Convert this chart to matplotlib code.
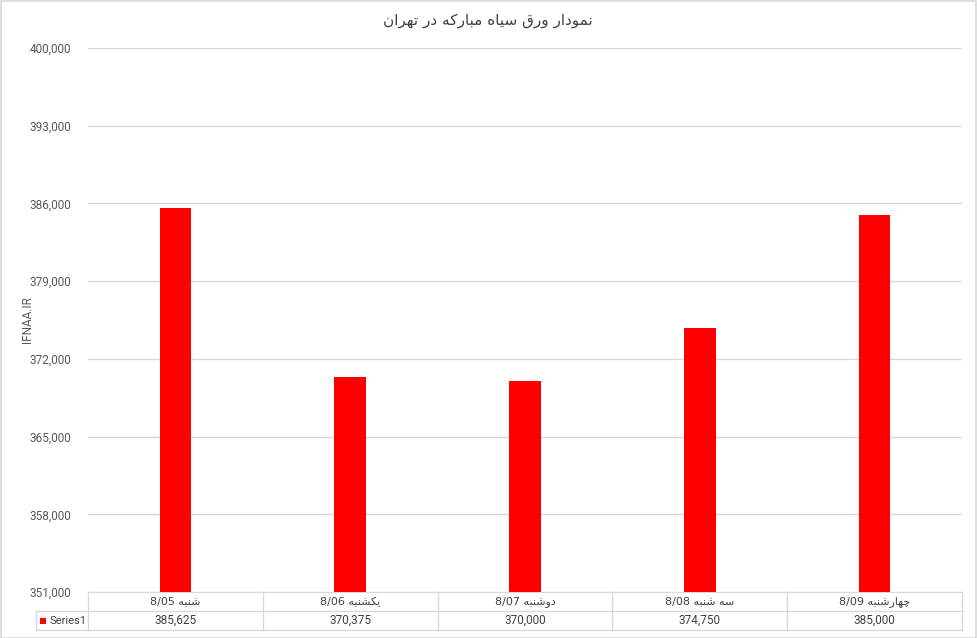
import matplotlib
matplotlib.use("Agg")
import matplotlib.pyplot as plt
import numpy as np
from matplotlib.patches import Rectangle
from matplotlib.ticker import FuncFormatter

# ---- data ----
title = "نمودار ورق سیاه مبارکه در تهران"
days = ["شنبه", "یکشنبه", "دوشنبه", "سه شنبه", "چهارشنبه"]
dates = ["8/05", "8/06", "8/07", "8/08", "8/09"]
values = [385625, 370375, 370000, 374750, 385000]
series_name = "Series1"
y_label = "IFNAA.IR"
y_min, y_max, y_step = 351000, 400000, 7000

# ---- minimal Arabic-script shaping (presentation forms + visual order) ----
FORMS = {
    "ا": ("\uFE8D", "\uFE8E"), "د": ("\uFEA9", "\uFEAA"), "ر": ("\uFEAD", "\uFEAE"),
    "و": ("\uFEED", "\uFEEE"),
    "ب": ("\uFE8F", "\uFE90", "\uFE91", "\uFE92"), "ت": ("\uFE95", "\uFE96", "\uFE97", "\uFE98"),
    "چ": ("\uFB7A", "\uFB7B", "\uFB7C", "\uFB7D"), "س": ("\uFEB1", "\uFEB2", "\uFEB3", "\uFEB4"),
    "ش": ("\uFEB5", "\uFEB6", "\uFEB7", "\uFEB8"), "ق": ("\uFED5", "\uFED6", "\uFED7", "\uFED8"),
    "ک": ("\uFB8E", "\uFB8F", "\uFB90", "\uFB91"), "م": ("\uFEE1", "\uFEE2", "\uFEE3", "\uFEE4"),
    "ن": ("\uFEE5", "\uFEE6", "\uFEE7", "\uFEE8"), "ه": ("\uFEE9", "\uFEEA", "\uFEEB", "\uFEEC"),
    "ی": ("\uFBFC", "\uFBFD", "\uFBFE", "\uFBFF"),
}


def shape(text):
    out = []
    for i, ch in enumerate(text):
        if ch not in FORMS:
            out.append(ch)
            continue
        f = FORMS[ch]
        prev = text[i - 1] if i > 0 else ""
        nxt = text[i + 1] if i + 1 < len(text) else ""
        pj = prev in FORMS and len(FORMS[prev]) == 4
        nj = len(f) == 4 and nxt in FORMS
        if pj and nj:
            out.append(f[3])
        elif pj:
            out.append(f[1])
        elif nj:
            out.append(f[2])
        else:
            out.append(f[0])
    return "".join(out)[::-1]


FA = ["DejaVu Sans"]
NUM = ["Roboto", "DejaVu Sans"]
TXT = "#404040"
GRID = "#d9d9d9"

W, H = 977, 638
fig = plt.figure(figsize=(W / 100, H / 100), dpi=100)
fig.patch.set_facecolor("white")
fig.patches.append(Rectangle((0.5 / W, 0.5 / H), 1 - 1.5 / W, 1 - 1.5 / H,
                             transform=fig.transFigure, fill=False,
                             edgecolor=GRID, linewidth=1.2))

L, R, T, B = 88, 962, 48, 592
ax = fig.add_axes([L / W, 1 - B / H, (R - L) / W, (B - T) / H])
x = list(range(len(values)))
ax.bar(x, values, width=0.18, color="#ff0000", zorder=3)
ax.set_xlim(-0.5, len(values) - 0.5)
ax.set_ylim(y_min, y_max)
ax.set_yticks(np.arange(y_min, y_max + 1, y_step))
ax.yaxis.set_major_formatter(FuncFormatter(lambda v, p: f"{int(v):,}"))
ax.grid(axis="y", color=GRID, linewidth=1, zorder=0)
ax.set_xticks([])
for s in ["top", "right", "left"]:
    ax.spines[s].set_visible(False)
ax.spines["bottom"].set_color(GRID)
ax.tick_params(axis="y", length=0, pad=12, labelcolor="#595959", labelsize=8.5)
for lab in ax.get_yticklabels():
    lab.set_fontfamily(NUM)

fig.text(28 / W, 1 - 320 / H, y_label, rotation=90, ha="center", va="center",
         fontsize=8.5, color="#595959", family=NUM)
fig.text(488 / W, 1 - 21 / H, shape(title), ha="center", va="center",
         fontsize=11, color=TXT, family=FA)

# ---- data table ----
def px(xp, yp):
    return xp / W, 1 - yp / H

row1, row2, row3 = 592, 611, 630
colw = (R - L) / len(values)
lines = [((36, row2), (R, row2)), ((36, row3), (R, row3)), ((36, row2), (36, row3))]
for i in range(len(values) + 1):
    xx = L + i * colw
    lines.append(((xx, row1), (xx, row3)))
for (a, b) in lines:
    fig.add_artist(plt.Line2D([a[0] / W, b[0] / W], [1 - a[1] / H, 1 - b[1] / H],
                              transform=fig.transFigure, color=GRID, linewidth=1))

for i, (d, dt, v) in enumerate(zip(days, dates, values)):
    cx = L + (i + 0.5) * colw
    fig.text(*px(cx, (row1 + row2) / 2), dt + " " + shape(d), ha="center", va="center",
             fontsize=8, color=TXT, family=FA)
    fig.text(*px(cx, (row2 + row3) / 2), f"{v:,}", ha="center", va="center",
             fontsize=8.5, color=TXT, family=NUM)

fig.add_artist(Rectangle(px(40, 624), 6 / W, 6 / H, transform=fig.transFigure,
                         facecolor="#ff0000", edgecolor="none"))
fig.text(*px(49, (row2 + row3) / 2), series_name, ha="left", va="center",
         fontsize=8, color=TXT, family=NUM)

fig.savefig("out.png", dpi=100)
